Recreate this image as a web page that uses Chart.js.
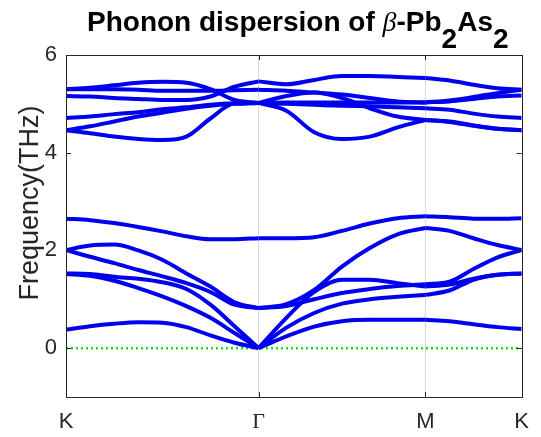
<!DOCTYPE html>
<html>
<head>
<meta charset="utf-8">
<script src="https://cdn.jsdelivr.net/npm/chart.js@4"></script>
<style>
  body { margin: 0; background: #fff; }
  #wrap { position: relative; width: 541px; height: 437px; }
  #title {
    position: absolute; left: 87px; top: 8px; white-space: nowrap;
    font: bold 28px "Liberation Sans", Arial, sans-serif; line-height: 28px; color: #000;
  }
  #title i { font-family: "Liberation Serif", serif; font-weight: normal; }
  #title .sub { position: relative; top: 0.6em; }
</style>
</head>
<body>
<div id="wrap">
  <canvas id="bands" width="541" height="437"></canvas>
  <div id="title">Phonon dispersion of <i>β</i>-Pb<span class="sub">2</span>As<span class="sub">2</span></div>
</div>
<script>
// path K - Γ - M - K (Γ-K = 1, Γ-M = √3/2, M-K = 1/2)
const kTicks = [0, 1, 1.866, 2.366];
const kLabels = ['K', 'Γ', 'M', 'K'];
const freqTicks = [0, 2, 4, 6];
const yLabel = 'Frequency(THz)';

const kPathKG = [0, 0.125, 0.25, 0.375, 0.5, 0.625, 0.75, 0.875, 1];
const kPathGM = [1, 1.1443, 1.2887, 1.433, 1.5773, 1.7217, 1.866];
const kPathMK = [1.866, 1.991, 2.116, 2.241, 2.366];

// frequencies (THz), one row per branch
const bandsKG = [
  [0.38, 0.45, 0.50, 0.53, 0.52, 0.43, 0.26, 0.11, 0.00],
  [1.52, 1.48, 1.38, 1.23, 1.06, 0.86, 0.62, 0.31, 0.00],
  [1.53, 1.52, 1.46, 1.42, 1.35, 1.21, 0.89, 0.45, 0.00],
  [2.01, 1.87, 1.74, 1.60, 1.47, 1.33, 1.15, 0.89, 0.82],
  [2.01, 2.10, 2.12, 2.00, 1.81, 1.53, 1.26, 0.94, 0.82],
  [2.65, 2.62, 2.56, 2.48, 2.39, 2.29, 2.23, 2.23, 2.25],
  [4.46, 4.40, 4.33, 4.28, 4.26, 4.33, 4.70, 5.01, 5.02],
  [4.46, 4.54, 4.64, 4.74, 4.82, 4.90, 4.96, 5.00, 5.02],
  [4.71, 4.74, 4.79, 4.83, 4.89, 4.93, 4.98, 5.01, 5.02],
  [5.16, 5.15, 5.12, 5.10, 5.08, 5.08, 5.15, 5.35, 5.46],
  [5.30, 5.30, 5.30, 5.29, 5.27, 5.27, 5.27, 5.28, 5.29],
  [5.30, 5.33, 5.38, 5.43, 5.45, 5.43, 5.30, 5.08, 5.02]
];
const bandsGM = [
  [0.00, 0.24, 0.44, 0.55, 0.58, 0.58, 0.58],
  [0.00, 0.42, 0.72, 0.91, 1.00, 1.05, 1.09],
  [0.00, 0.62, 1.15, 1.40, 1.40, 1.33, 1.26],
  [0.82, 0.86, 1.00, 1.13, 1.21, 1.27, 1.31],
  [0.82, 0.90, 1.19, 1.67, 2.05, 2.33, 2.46],
  [2.25, 2.25, 2.27, 2.40, 2.55, 2.66, 2.70],
  [5.02, 4.86, 4.42, 4.28, 4.33, 4.52, 4.67],
  [5.02, 5.16, 5.23, 5.12, 4.91, 4.74, 4.67],
  [5.02, 5.00, 4.98, 4.96, 4.95, 4.93, 4.91],
  [5.02, 5.03, 5.03, 5.03, 5.03, 5.03, 5.03],
  [5.29, 5.27, 5.23, 5.19, 5.12, 5.05, 5.03],
  [5.46, 5.40, 5.49, 5.57, 5.57, 5.55, 5.53]
];
const bandsMK = [
  [0.58, 0.55, 0.49, 0.43, 0.39],
  [1.09, 1.18, 1.40, 1.50, 1.53],
  [1.26, 1.30, 1.42, 1.50, 1.53],
  [1.31, 1.36, 1.62, 1.86, 2.01],
  [2.46, 2.40, 2.25, 2.11, 2.01],
  [2.70, 2.68, 2.65, 2.65, 2.66],
  [4.67, 4.63, 4.55, 4.49, 4.46],
  [4.67, 4.64, 4.56, 4.49, 4.46],
  [4.91, 4.88, 4.80, 4.74, 4.71],
  [5.03, 5.07, 5.14, 5.22, 5.29],
  [5.03, 5.05, 5.10, 5.15, 5.17],
  [5.53, 5.48, 5.39, 5.32, 5.29]
];

const zeroK = [0, 2.366];
const zeroF = [0, 0];

const FONT = '"Liberation Sans", Arial, sans-serif';
const INK = '#262626';

const datasets = [];
[[kPathKG, bandsKG], [kPathGM, bandsGM], [kPathMK, bandsMK]].forEach(([ks, rows]) => {
  rows.forEach(row => {
    datasets.push({
      data: ks.map((k, i) => ({ x: k, y: row[i] })),
      borderColor: '#0000ee',
      borderWidth: 4,
      pointRadius: 0,
      cubicInterpolationMode: 'monotone',
      fill: false
    });
  });
});
datasets.push({
  data: zeroK.map((k, i) => ({ x: k, y: zeroF[i] })),
  borderColor: '#1ddc1d',
  borderWidth: 2.5,
  borderDash: [2, 3],
  pointRadius: 0,
  fill: false
});

// box round the axes, MATLAB-style inward tick marks, y label
const frame = {
  id: 'frame',
  afterDatasetsDraw(chart) {
    const { ctx, chartArea: a, scales } = chart;
    ctx.save();
    ctx.strokeStyle = INK;
    ctx.lineWidth = 1;
    ctx.beginPath();
    freqTicks.forEach(v => {
      const y = Math.round(scales.y.getPixelForValue(v)) + 0.5;
      ctx.moveTo(a.left, y); ctx.lineTo(a.left + 5, y);
      ctx.moveTo(a.right, y); ctx.lineTo(a.right - 5, y);
    });
    kTicks.slice(1, 3).forEach(v => {
      const x = Math.round(scales.x.getPixelForValue(v)) + 0.5;
      ctx.moveTo(x, a.bottom); ctx.lineTo(x, a.bottom - 5);
      ctx.moveTo(x, a.top); ctx.lineTo(x, a.top + 5);
    });
    ctx.stroke();
    ctx.strokeRect(Math.round(a.left) + 0.5, Math.round(a.top) + 0.5,
      Math.round(a.right - a.left), Math.round(a.bottom - a.top));

    ctx.translate(31, 203);
    ctx.rotate(-Math.PI / 2);
    ctx.fillStyle = INK;
    ctx.font = '27px ' + FONT;
    ctx.textAlign = 'center';
    ctx.textBaseline = 'middle';
    ctx.fillText(yLabel, 0, 0);
    ctx.restore();
  }
};

new Chart(document.getElementById('bands'), {
  type: 'line',
  data: { datasets },
  options: {
    responsive: false,
    animation: false,
    layout: { padding: { top: 55, right: 13, left: 0, bottom: 0 } },
    plugins: { legend: { display: false }, tooltip: { enabled: false } },
    scales: {
      x: {
        type: 'linear',
        min: 0,
        max: 2.366,
        afterBuildTicks: s => { s.ticks = kTicks.map(v => ({ value: v })); },
        afterFit: s => { s.height = 40; },
        border: { display: false },
        grid: {
          drawTicks: false,
          color: c => (c.index === 1 || c.index === 2) ? '#d9d9d9' : 'rgba(0,0,0,0)'
        },
        ticks: {
          autoSkip: false,
          maxRotation: 0,
          padding: 12,
          color: INK,
          callback: (v, i) => kLabels[i],
          font: c => kLabels[c.index] === 'Γ'
            ? { family: '"Liberation Serif", serif', size: 22 }
            : { family: FONT, size: 22 }
        }
      },
      y: {
        min: -1,
        max: 6,
        afterBuildTicks: s => { s.ticks = freqTicks.map(v => ({ value: v })); },
        afterFit: s => { s.width = 66; },
        border: { display: false },
        grid: { display: false, drawTicks: false },
        ticks: { padding: 9, color: INK, font: { family: FONT, size: 22 } }
      }
    }
  },
  plugins: [frame]
});
</script>
</body>
</html>
